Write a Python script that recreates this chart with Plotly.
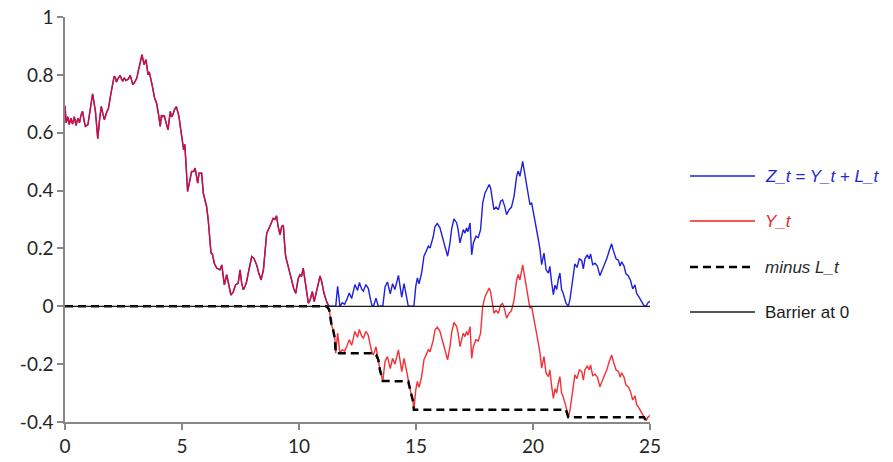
import numpy as np
import plotly.graph_objects as go

# time points and Y_t values
t = [0.00,0.05,0.12,0.18,0.25,0.32,0.40,0.47,0.55,0.62,0.68,0.75,0.82,0.87,0.98,1.08,1.18,1.30,1.40,1.47,
     1.55,1.62,1.68,1.77,1.86,1.95,2.04,2.10,2.15,2.20,2.28,2.36,2.42,2.47,2.53,2.60,2.70,2.79,2.85,2.90,
     2.98,3.07,3.15,3.22,3.29,3.34,3.38,3.46,3.50,3.55,3.60,3.65,3.72,3.83,3.92,4.00,4.07,4.12,4.18,4.24,
     4.32,4.40,4.50,4.55,4.60,4.68,4.76,4.82,4.87,4.93,4.99,5.03,5.07,5.12,5.17,5.24,5.34,5.41,5.50,5.56,
     5.61,5.67,5.73,5.84,5.91,6.05,6.12,6.18,6.24,6.30,6.38,6.48,6.55,6.62,6.70,6.76,6.81,6.91,6.99,7.09,
     7.19,7.29,7.40,7.48,7.55,7.62,7.70,7.76,7.86,7.98,8.08,8.19,8.28,8.38,8.48,8.55,8.62,8.72,8.83,8.90,
     8.97,9.04,9.10,9.19,9.26,9.33,9.38,9.43,9.54,9.62,9.69,9.78,9.86,9.97,10.04,10.11,10.18,10.28,10.34,10.40,
     10.47,10.57,10.65,10.75,10.83,10.90,10.97,11.07,11.18,11.29,11.39,11.46,11.53,11.57,11.65,11.75,11.85,11.95,12.04,12.15,
     12.25,12.32,12.39,12.50,12.58,12.68,12.75,12.86,12.96,13.06,13.12,13.18,13.29,13.39,13.46,13.58,13.68,13.78,13.90,14.00,
     14.10,14.25,14.32,14.39,14.49,14.58,14.67,14.77,14.86,14.91,14.99,15.06,15.13,15.24,15.34,15.46,15.53,15.60,15.67,15.74,
     15.81,15.91,16.02,16.12,16.24,16.35,16.45,16.52,16.62,16.74,16.80,16.88,16.95,17.02,17.09,17.16,17.22,17.31,17.38,17.45,
     17.56,17.66,17.76,17.85,17.95,18.05,18.13,18.19,18.25,18.33,18.42,18.52,18.62,18.70,18.80,18.87,18.98,19.08,19.19,19.30,
     19.37,19.44,19.56,19.66,19.73,19.80,19.87,19.94,20.01,20.13,20.23,20.30,20.37,20.47,20.56,20.66,20.72,20.80,20.87,20.94,
     21.01,21.08,21.15,21.22,21.28,21.41,21.51,21.58,21.69,21.79,21.88,21.98,22.08,22.15,22.22,22.32,22.40,22.46,22.55,22.65,
     22.75,22.86,23.00,23.15,23.26,23.36,23.43,23.55,23.65,23.72,23.79,23.89,23.97,24.07,24.17,24.26,24.36,24.43,24.54,24.64,
     24.74,24.83,24.92,25.00]

y_t = [0.693,0.634,0.655,0.628,0.650,0.630,0.655,0.625,0.650,0.635,0.660,0.674,0.640,0.622,0.628,0.680,0.734,0.674,0.579,0.640,
       0.691,0.665,0.645,0.668,0.685,0.730,0.778,0.795,0.791,0.775,0.790,0.798,0.785,0.778,0.790,0.780,0.785,0.798,0.780,0.766,
       0.775,0.789,0.820,0.850,0.870,0.850,0.835,0.853,0.825,0.800,0.810,0.795,0.766,0.720,0.700,0.662,0.622,0.660,0.655,0.660,
       0.635,0.610,0.674,0.655,0.660,0.680,0.690,0.675,0.656,0.620,0.587,0.570,0.541,0.560,0.480,0.397,0.437,0.466,0.466,0.478,
       0.455,0.426,0.460,0.460,0.391,0.345,0.299,0.240,0.184,0.180,0.149,0.132,0.130,0.126,0.143,0.110,0.074,0.109,0.080,0.039,
       0.050,0.074,0.080,0.126,0.080,0.057,0.070,0.085,0.126,0.172,0.165,0.143,0.115,0.091,0.126,0.190,0.253,0.270,0.293,0.304,
       0.300,0.313,0.280,0.247,0.276,0.280,0.220,0.172,0.137,0.110,0.085,0.060,0.045,0.097,0.109,0.103,0.132,0.070,0.035,0.011,
       0.020,0.051,0.016,0.050,0.080,0.105,0.085,0.045,0.016,-0.012,-0.064,-0.082,-0.110,-0.162,-0.093,-0.162,-0.150,-0.155,-0.139,-0.116,
       -0.135,-0.110,-0.087,-0.107,-0.080,-0.103,-0.110,-0.087,-0.100,-0.140,-0.160,-0.168,-0.140,-0.185,-0.220,-0.258,-0.190,-0.174,-0.215,-0.180,
       -0.200,-0.151,-0.190,-0.226,-0.180,-0.220,-0.260,-0.295,-0.324,-0.358,-0.289,-0.260,-0.280,-0.243,-0.185,-0.162,-0.150,-0.157,-0.140,-0.116,
       -0.082,-0.072,-0.086,-0.116,-0.151,-0.185,-0.140,-0.093,-0.056,-0.070,-0.093,-0.139,-0.116,-0.093,-0.105,-0.087,-0.100,-0.070,-0.180,-0.140,
       -0.116,-0.120,-0.093,-0.001,0.034,0.051,0.063,0.050,0.011,-0.024,-0.015,-0.024,0.005,0.010,-0.015,-0.041,-0.024,-0.015,0.022,0.091,
       0.110,0.091,0.143,0.091,0.057,0.022,-0.007,0.000,-0.028,-0.082,-0.128,-0.162,-0.214,-0.174,-0.232,-0.243,-0.220,-0.278,-0.318,-0.285,
       -0.300,-0.266,-0.243,-0.300,-0.310,-0.347,-0.384,-0.360,-0.300,-0.237,-0.250,-0.220,-0.225,-0.255,-0.220,-0.206,-0.220,-0.203,-0.240,-0.235,
       -0.245,-0.278,-0.250,-0.220,-0.191,-0.168,-0.190,-0.220,-0.225,-0.245,-0.230,-0.245,-0.272,-0.278,-0.295,-0.324,-0.310,-0.340,-0.353,-0.370,
       -0.382,-0.395,-0.382,-0.378]

x_ticks = [0, 5, 10, 15, 20, 25]
y_ticks = [-0.4, -0.2, 0, 0.2, 0.4, 0.6, 0.8, 1]
y_tick_labels = ["-0.4", "-0.2", "0", "0.2", "0.4", "0.6", "0.8", "1"]
legend_names = ["Z_t = Y_t + L_t", "Y_t", "minus L_t", "Barrier at 0"]

Y = np.array(y_t)
L = np.maximum.accumulate(np.maximum(-Y, 0.0))   # local time (running max of -Y, floored at 0)
Z = Y + L
minus_L = -L

BLUE = "#1f1fe0"
RED = "rgba(242,10,20,0.85)"

fig = go.Figure()
fig.add_trace(go.Scatter(x=t, y=Z, mode="lines", name=legend_names[0],
                         line=dict(color=BLUE, width=1.4)))
fig.add_trace(go.Scatter(x=t, y=Y, mode="lines", name=legend_names[1],
                         line=dict(color=RED, width=1.4)))
fig.add_trace(go.Scatter(x=t, y=minus_L, mode="lines", name=legend_names[2],
                         line=dict(color="#000000", width=2.5, dash="8px,5px")))
fig.add_trace(go.Scatter(x=[0, 25], y=[0, 0], mode="lines", name=legend_names[3],
                         line=dict(color="#1a1a1a", width=1.3)))

# manual legend (long line samples as in the reference); pixel coords in the window
legend_y = [176, 221, 267, 312]
plot_top, plot_bot = 17, 422
pl, pr = 65, 650
styles = [dict(color=BLUE, width=1.4), dict(color="#f02020", width=1.4),
          dict(color="#000000", width=2.5, dash="8px,5px"), dict(color="#1a1a1a", width=1.3)]
txt_colors = ["#2424d8", "#e02a2a", "#2a2a2a", "#1a1a1a"]
italic = [True, True, True, False]
x0_px, x1_px, xt_px = 690, 755, 763
def xp(px):
    return (px - pl) / (pr - pl)
def yp(py):
    return (plot_bot - py) / (plot_bot - plot_top)
for i, name in enumerate(legend_names):
    fig.add_shape(type="line", xref="paper", yref="paper",
                  x0=xp(x0_px), x1=xp(x1_px), y0=yp(legend_y[i]), y1=yp(legend_y[i]),
                  line=styles[i])
    label = f"<i>{name}</i>" if italic[i] else name
    fig.add_annotation(xref="paper", yref="paper", x=xp(xt_px), y=yp(legend_y[i]),
                       text=label, showarrow=False, xanchor="left", yanchor="middle",
                       font=dict(family="Liberation Sans, Arial", size=17, color=txt_colors[i]))

fig.update_layout(
    width=893, height=462,
    margin=dict(l=pl, r=893 - pr, t=plot_top, b=462 - plot_bot, autoexpand=False),
    paper_bgcolor="white", plot_bgcolor="white",
    showlegend=False,
    font=dict(family="Lato, Carlito, sans-serif", size=19, color="#262626"),
)
fig.update_xaxes(range=[0, 25], tickvals=x_ticks, ticktext=[str(v) for v in x_ticks], automargin=False,
                 showgrid=False, zeroline=False, showline=True, linecolor="#878787", linewidth=1.5,
                 ticks="outside", ticklen=6, tickcolor="#878787", tickwidth=1.5,
                 tickfont=dict(family="Lato, sans-serif", size=19, color="#262626"))
fig.update_yaxes(range=[-0.4, 1], tickvals=y_ticks, ticktext=y_tick_labels, automargin=False,
                 showgrid=False, zeroline=False, showline=True, linecolor="#878787", linewidth=1.5,
                 ticks="outside", ticklen=6, tickcolor="#878787", tickwidth=1.5,
                 tickfont=dict(family="Lato, sans-serif", size=19, color="#262626"))

# remove the browser's default 8px body margin so the figure sits at the window's corner
fig.write_html("out.html", config={"displayModeBar": False},
               post_script="document.body.style.margin='0px';")
